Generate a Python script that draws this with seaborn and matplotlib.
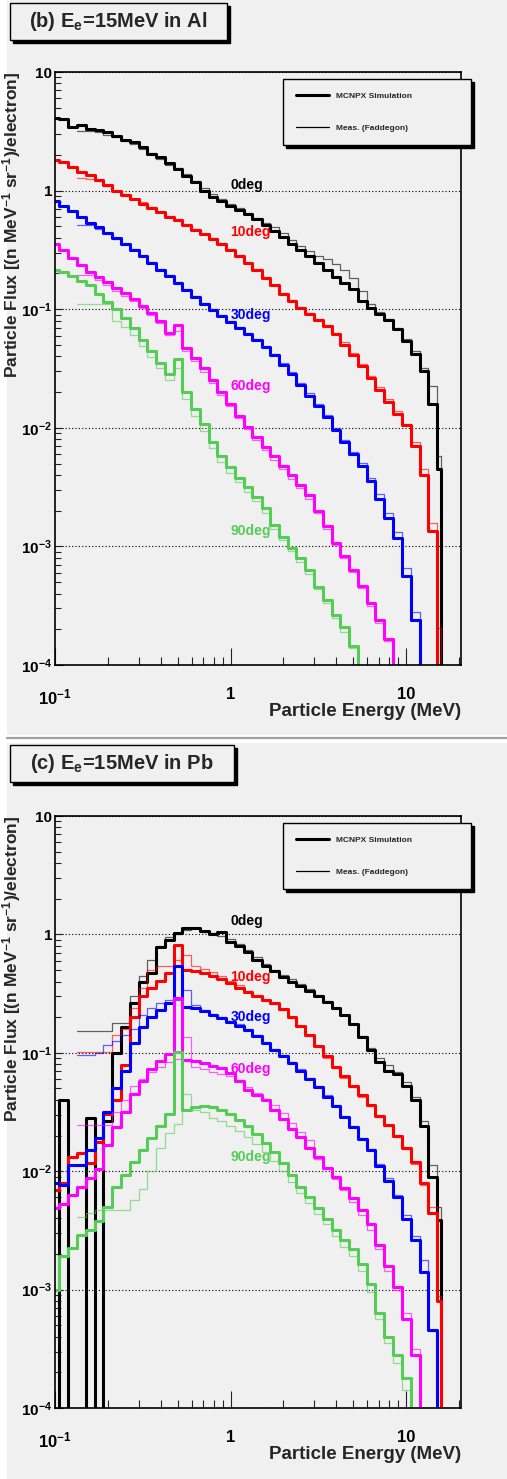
import numpy as np
import matplotlib
matplotlib.use("Agg")
import matplotlib.pyplot as plt
from matplotlib.patches import Rectangle
from matplotlib.lines import Line2D
from matplotlib.ticker import LogLocator, NullFormatter
import seaborn as sns

# ROOT-like look: plain ticks, grey canvas, bold Helvetica-ish text
sns.set_theme(style="ticks")
plt.rcParams["font.family"] = ["Liberation Sans", "DejaVu Sans"]
plt.rcParams["font.weight"] = "bold"
plt.rcParams["mathtext.fontset"] = "custom"
plt.rcParams["mathtext.rm"] = "Liberation Sans:bold"
plt.rcParams["mathtext.bf"] = "Liberation Sans:bold"
plt.rcParams["mathtext.it"] = "Liberation Sans:bold"
plt.rcParams["mathtext.default"] = "bf"

# Energy bin edges (MeV), 20 bins per decade
edges = [0.100, 0.106, 0.119, 0.133, 0.150, 0.168, 0.188, 0.211, 0.237, 0.266,
         0.299, 0.335, 0.376, 0.422, 0.473, 0.531, 0.596, 0.668, 0.750, 0.841,
         0.944, 1.06, 1.19, 1.33, 1.50, 1.68, 1.88, 2.11, 2.37, 2.66,
         2.99, 3.35, 3.76, 4.22, 4.73, 5.31, 5.96, 6.68, 7.50, 8.41,
         9.44, 10.6, 11.9, 13.3, 15.0, 15.8]

angles = ["0deg", "10deg", "30deg", "60deg", "90deg"]
colors = ["#000000", "#ff0000", "#0000ff", "#ff00ff", "#55cc55"]

# log10 of the flux in each bin, None = empty bin
# simulation covers all 45 bins, measurement starts at bin 3 (0.133 MeV)

# ---- (b) Al target ----
al_sim_0 = [0.61, 0.60, 0.54, 0.55, 0.52, 0.51, 0.49, 0.46, 0.43, 0.41,
            0.37, 0.31, 0.28, 0.23, 0.18, 0.12, 0.07, 0.00, -0.05, -0.09,
            -0.13, -0.16, -0.20, -0.24, -0.29, -0.34, -0.39, -0.45, -0.50, -0.55,
            -0.61, -0.67, -0.73, -0.78, -0.83, -0.93, -0.99, -1.04, -1.09, -1.17,
            -1.27, -1.38, -1.52, -1.80, -2.35]
al_meas_0 = [0.50, 0.50, 0.49, 0.47, 0.45, 0.42, 0.39,
             0.35, 0.32, 0.27, 0.22, 0.19, 0.14, 0.08, 0.02, -0.03, -0.07,
             -0.11, -0.15, -0.19, -0.23, -0.27, -0.31, -0.36, -0.42, -0.47, -0.51,
             -0.55, -0.58, -0.62, -0.67, -0.74, -0.85, -0.96, -1.02, -1.08, -1.16,
             -1.25, -1.35, -1.50, -1.65, -2.24]

al_sim_10 = [0.26, 0.24, 0.20, 0.16, 0.13, 0.09, 0.05, 0.00, -0.04, -0.07,
             -0.11, -0.15, -0.18, -0.22, -0.25, -0.29, -0.33, -0.37, -0.41, -0.45,
             -0.50, -0.55, -0.61, -0.67, -0.74, -0.80, -0.87, -0.93, -0.99, -1.04,
             -1.09, -1.14, -1.21, -1.30, -1.39, -1.48, -1.58, -1.68, -1.78, -1.88,
             -1.98, -2.15, -2.40, -2.87, None]
al_meas_10 = [0.11, 0.10, 0.08, 0.04, 0.00, -0.03, -0.07,
              -0.10, -0.14, -0.18, -0.21, -0.24, -0.28, -0.32, -0.37, -0.40, -0.44,
              -0.49, -0.54, -0.60, -0.66, -0.73, -0.80, -0.86, -0.92, -0.98, -1.03,
              -1.08, -1.13, -1.20, -1.28, -1.37, -1.46, -1.56, -1.66, -1.76, -1.86,
              -1.97, -2.12, -2.35, -2.80, -3.69]

al_sim_30 = [-0.09, -0.13, -0.17, -0.22, -0.27, -0.31, -0.36, -0.40, -0.45, -0.50,
             -0.55, -0.61, -0.67, -0.72, -0.78, -0.84, -0.90, -0.96, -1.01, -1.06,
             -1.11, -1.16, -1.21, -1.26, -1.32, -1.39, -1.47, -1.55, -1.64, -1.73,
             -1.82, -1.91, -2.02, -2.12, -2.22, -2.32, -2.45, -2.60, -2.76, -2.93,
             -3.25, -3.62, None, None, None]
al_meas_30 = [-0.29, -0.29, -0.32, -0.36, -0.41, -0.45, -0.49,
              -0.54, -0.60, -0.66, -0.71, -0.77, -0.83, -0.89, -0.95, -1.00, -1.05,
              -1.10, -1.15, -1.20, -1.25, -1.31, -1.38, -1.45, -1.53, -1.62, -1.71,
              -1.80, -1.89, -2.00, -2.10, -2.20, -2.30, -2.42, -2.56, -2.72, -2.88,
              -3.18, -3.55, None, None, None]

al_sim_60 = [-0.45, -0.50, -0.57, -0.63, -0.69, -0.73, -0.77, -0.82, -0.86, -0.91,
             -0.97, -1.03, -1.10, -1.20, -1.13, -1.33, -1.41, -1.50, -1.60, -1.70,
             -1.80, -1.90, -1.99, -2.08, -2.16, -2.24, -2.32, -2.40, -2.48, -2.57,
             -2.70, -2.83, -2.97, -3.08, -3.20, -3.33, -3.48, -3.62, -3.78, None,
             None, None, None, None, None]
al_meas_60 = [-0.71, -0.71, -0.75, -0.80, -0.85, -0.89, -0.93,
              -0.99, -1.05, -1.12, -1.22, -1.18, -1.35, -1.44, -1.53, -1.62, -1.72,
              -1.82, -1.92, -2.01, -2.10, -2.19, -2.27, -2.35, -2.43, -2.51, -2.60,
              -2.72, -2.85, -2.99, -3.10, -3.22, -3.35, -3.50, -3.65, -3.80, None,
              None, None, None, None, None]

al_sim_90 = [-0.67, -0.69, -0.72, -0.76, -0.80, -0.87, -0.94, -1.00, -1.07, -1.16,
             -1.26, -1.35, -1.45, -1.55, -1.42, -1.70, -1.84, -1.97, -2.12, -2.24,
             -2.33, -2.42, -2.50, -2.58, -2.68, -2.82, -2.92, -3.01, -3.10, -3.20,
             -3.34, -3.45, -3.58, -3.68, -3.84, None, None, None, None, None,
             None, None, None, None, None]
al_meas_90 = [-0.96, -0.96, -0.96, -0.96, -1.10, -1.15, -1.22,
              -1.31, -1.40, -1.50, -1.60, -1.50, -1.76, -1.90, -2.03, -2.17, -2.29,
              -2.38, -2.46, -2.54, -2.62, -2.72, -2.85, -2.95, -3.04, -3.13, -3.23,
              -3.36, -3.48, -3.60, -3.72, -3.86, None, None, None, None, None,
              None, None, None, None, None]

# ---- (c) Pb target ----
pb_sim_0 = [None, -1.40, None, None, -1.55, None, -1.58, -1.00, -0.78, -0.58,
            -0.40, -0.33, -0.11, -0.05, 0.01, 0.05, 0.05, 0.03, 0.00, 0.02,
            -0.06, -0.10, -0.15, -0.22, -0.27, -0.31, -0.36, -0.40, -0.44, -0.48,
            -0.52, -0.57, -0.62, -0.68, -0.76, -0.87, -0.98, -1.08, -1.15, -1.18,
            -1.28, -1.40, -1.62, -2.05, -2.41]
pb_meas_0 = [-0.82, -0.82, -0.82, -0.82, -0.75, -0.75, -0.52,
             -0.35, -0.22, -0.10, -0.02, 0.00, 0.04, 0.05, 0.02, 0.01, -0.01,
             -0.04, -0.08, -0.13, -0.19, -0.25, -0.30, -0.34, -0.38, -0.42, -0.46,
             -0.51, -0.56, -0.62, -0.68, -0.76, -0.86, -0.96, -1.04, -1.10, -1.16,
             -1.25, -1.37, -1.58, -1.95, -2.30]

pb_sim_10 = [-2.16, -2.10, -1.88, -1.85, -1.93, -1.75, -1.52, -1.40, -1.10, -0.70,
             -0.52, -0.45, -0.39, -0.33, -0.09, -0.30, -0.31, -0.33, -0.35, -0.38,
             -0.41, -0.45, -0.49, -0.52, -0.55, -0.58, -0.63, -0.70, -0.77, -0.85,
             -0.94, -1.03, -1.12, -1.20, -1.28, -1.36, -1.44, -1.53, -1.61, -1.70,
             -1.80, -1.92, -2.10, -2.35, -3.10]
pb_meas_10 = [-0.99, -0.99, -0.99, -0.99, -0.85, -0.80, -0.62,
              -0.45, -0.30, -0.27, -0.27, -0.22, -0.17, -0.27, -0.29, -0.32, -0.35,
              -0.39, -0.43, -0.48, -0.52, -0.55, -0.59, -0.64, -0.71, -0.78, -0.86,
              -0.95, -1.04, -1.13, -1.21, -1.29, -1.37, -1.45, -1.54, -1.62, -1.71,
              -1.81, -1.94, -2.12, -2.30, -3.05]

pb_sim_30 = [-2.10, -2.12, -1.95, -1.95, -1.82, -1.72, -1.50, -1.30, -1.15, -0.92,
             -0.78, -0.70, -0.64, -0.58, -0.27, -0.61, -0.62, -0.65, -0.68, -0.71,
             -0.74, -0.77, -0.81, -0.86, -0.92, -0.98, -1.03, -1.09, -1.15, -1.22,
             -1.29, -1.37, -1.45, -1.54, -1.63, -1.73, -1.82, -1.96, -2.08, -2.22,
             -2.40, -2.58, -2.85, -3.34, None]
pb_meas_30 = [-1.02, -1.02, -1.00, -0.93, -0.90, -0.85, -0.80,
              -0.68, -0.62, -0.58, -0.55, -0.55, -0.47, -0.60, -0.64, -0.67, -0.70,
              -0.73, -0.76, -0.80, -0.85, -0.91, -0.97, -1.02, -1.08, -1.14, -1.21,
              -1.28, -1.36, -1.44, -1.53, -1.62, -1.72, -1.81, -1.94, -2.06, -2.20,
              -2.37, -2.55, -2.75, -3.35, None]

pb_sim_60 = [-2.31, -2.28, -2.20, -2.13, -2.06, -1.98, -1.78, -1.63, -1.50, -1.35,
             -1.24, -1.14, -1.07, -1.01, -0.54, -1.06, -1.07, -1.09, -1.11, -1.13,
             -1.17, -1.24, -1.31, -1.36, -1.40, -1.48, -1.56, -1.64, -1.71, -1.80,
             -1.88, -1.97, -2.05, -2.14, -2.23, -2.33, -2.45, -2.62, -2.80, -2.98,
             -3.25, -3.55, None, None, None]
pb_meas_60 = [-1.61, -1.61, -1.61, -1.61, -1.50, -1.40, -1.28,
              -1.22, -1.16, -1.12, -1.08, -1.05, -0.87, -1.12, -1.14, -1.16, -1.18,
              -1.20, -1.23, -1.29, -1.34, -1.39, -1.44, -1.51, -1.59, -1.67, -1.74,
              -1.90, -1.98, -2.07, -2.16, -2.26, -2.37, -2.50, -2.66, -2.84, -3.00,
              -3.20, -3.50, None, None, None]

pb_sim_90 = [-3.00, -2.72, -2.65, -2.54, -2.50, -2.42, -2.30, -2.13, -2.03, -1.92,
             -1.82, -1.72, -1.62, -1.52, -0.99, -1.48, -1.46, -1.45, -1.46, -1.48,
             -1.52, -1.57, -1.62, -1.69, -1.76, -1.84, -1.93, -2.03, -2.13, -2.22,
             -2.31, -2.40, -2.50, -2.58, -2.66, -2.78, -2.95, -3.20, -3.40, -3.55,
             -3.75, None, None, None, None]
pb_meas_90 = [-2.39, -2.35, -2.33, -2.33, -2.33, -2.33, -2.24,
              -2.15, -2.00, -1.80, -1.68, -1.60, -1.35, -1.48, -1.50, -1.55, -1.58,
              -1.62, -1.66, -1.71, -1.77, -1.84, -1.91, -2.00, -2.09, -2.18, -2.27,
              -2.36, -2.45, -2.55, -2.64, -2.72, -2.84, -3.02, -3.25, -3.45, -3.62,
              -3.85, None, None, None, None]

# where the angle tags sit (flux value at E = 1 MeV)
label_y_al = [1.12, 0.45, 0.089, 0.0224, 0.00135]
label_y_pb = [1.30, 0.437, 0.20, 0.0724, 0.0132]

MEAS_START = 3
W, H = 507, 1479
BG = "#f0f0f0"


def draw_step(ax, first_bin, values, color, lw, alpha):
    # empty bins go far below the axis so the histogram drops to the floor
    flux = [10 ** v if v is not None else 1e-9 for v in values]
    x = edges[first_bin:first_bin + len(values) + 1]
    y = flux + [1e-9]
    sns.lineplot(x=x, y=y, ax=ax, color=color, linewidth=lw, alpha=alpha,
                 drawstyle="steps-post", estimator=None, sort=False, legend=False)


def fig_rect(x0, y0, x1, y1):
    # pixel box (top-left origin) -> figure fraction rectangle
    return (x0 / W, 1 - y1 / H), (x1 - x0) / W, (y1 - y0) / H


def title_box(x0, y0, x1, y1, text):
    xy, w, h = fig_rect(x0 + 3, y0 + 3, x1 + 3, y1 + 3)
    fig.add_artist(Rectangle(xy, w, h, transform=fig.transFigure,
                             facecolor="black", edgecolor="black", zorder=5))
    xy, w, h = fig_rect(x0, y0, x1, y1)
    fig.add_artist(Rectangle(xy, w, h, transform=fig.transFigure,
                             facecolor=BG, edgecolor="black", lw=1.0, zorder=6))
    fig.text((x0 + x1) / 2 / W, 1 - (y0 + y1) / 2 / H, text, ha="center",
             va="center", fontsize=14.5, fontweight="bold", zorder=7)


def style_axes(ax, tag_y):
    ax.set_xscale("log")
    ax.set_yscale("log")
    ax.set_xlim(0.1, 20.5)
    ax.set_ylim(1e-4, 10)
    ax.set_facecolor(BG)

    ax.set_xticks([0.1, 1, 10], labels=[r"$10^{-1}$", "1", "10"])
    ax.set_yticks([1e-4, 1e-3, 1e-2, 1e-1, 1, 10],
                  labels=[r"$10^{-4}$", r"$10^{-3}$", r"$10^{-2}$", r"$10^{-1}$", "1", "10"])
    for axis in (ax.xaxis, ax.yaxis):
        axis.set_minor_locator(LogLocator(base=10, subs=np.arange(2, 10)))
        axis.set_minor_formatter(NullFormatter())

    ax.tick_params(axis="both", which="both", direction="in", colors="#222222",
                   width=0.8, labelsize=12, labelcolor="black")
    ax.tick_params(axis="x", which="major", length=12, pad=16)
    ax.tick_params(axis="x", which="minor", length=6)
    ax.tick_params(axis="y", which="major", length=6, pad=2, labelsize=11)
    ax.tick_params(axis="y", which="minor", length=4.5)

    ax.grid(False)
    ax.grid(axis="y", which="major", linestyle=(0, (1, 2)), color="black", linewidth=0.8)
    for side in ax.spines.values():
        side.set_visible(True)
        side.set_color("black")
        side.set_linewidth(1.2)

    ax.set_ylabel(r"Particle Flux [(n MeV$^{-1}$ sr$^{-1}$)/electron]",
                  fontsize=12.5, fontweight="bold", loc="top")
    ax.yaxis.set_label_coords(-0.080, 1.0)
    ax.set_xlabel("Particle Energy (MeV)", fontsize=13.5, fontweight="bold", loc="right")
    ax.xaxis.set_label_coords(1.0, -0.064)

    for name, col, yv in zip(angles, colors, tag_y):
        ax.text(1.0, yv, name, color=col, fontsize=10, fontweight="bold",
                ha="left", va="center")

    handles = [Line2D([], [], color="black", lw=2.2), Line2D([], [], color="black", lw=0.9)]
    ax.legend(handles, ["MCNPX Simulation", "Meas. (Faddegon)"], loc="upper left",
              bbox_to_anchor=(0.5616, 0.875, 0.463, 0.113), mode="expand",
              borderaxespad=0, fontsize=6, labelspacing=2.9, borderpad=1.55,
              handlelength=4.0, handletextpad=0.8, frameon=True, fancybox=False,
              shadow={"color": "black", "alpha": 1}, facecolor=BG,
              edgecolor="black", framealpha=1)


fig = plt.figure(figsize=(W / 100, H / 100), dpi=100, facecolor="white")

# grey ROOT pads behind each panel and the divider between them
for y0, y1 in [(0, 735), (743, H)]:
    xy, w, h = fig_rect(7, y0, W, y1)
    fig.add_artist(Rectangle(xy, w, h, transform=fig.transFigure,
                             facecolor=BG, edgecolor="none", zorder=-10))
fig.add_artist(Line2D([7 / W, 1], [1 - 737.5 / H] * 2, color="#a0a0a0", lw=1.6))

ax_al = fig.add_axes([55 / W, 1 - 665 / H, 406 / W, 593 / H])
ax_pb = fig.add_axes([55 / W, 1 - 1408 / H, 406 / W, 592 / H])

al_sim = [al_sim_0, al_sim_10, al_sim_30, al_sim_60, al_sim_90]
al_meas = [al_meas_0, al_meas_10, al_meas_30, al_meas_60, al_meas_90]
pb_sim = [pb_sim_0, pb_sim_10, pb_sim_30, pb_sim_60, pb_sim_90]
pb_meas = [pb_meas_0, pb_meas_10, pb_meas_30, pb_meas_60, pb_meas_90]

for ax, sims, meas in [(ax_al, al_sim, al_meas), (ax_pb, pb_sim, pb_meas)]:
    for col, s, m in zip(colors, sims, meas):
        draw_step(ax, 0, s, col, 2.2, 1.0)
        draw_step(ax, MEAS_START, m, col, 0.9, 0.6)

style_axes(ax_al, label_y_al)
style_axes(ax_pb, label_y_pb)

title_box(10, 3, 227, 40, r"(b) E$_e$=15MeV in Al")
title_box(10, 745, 234, 782, r"(c) E$_e$=15MeV in Pb")

plt.savefig("out.png", dpi=100, facecolor="white")
